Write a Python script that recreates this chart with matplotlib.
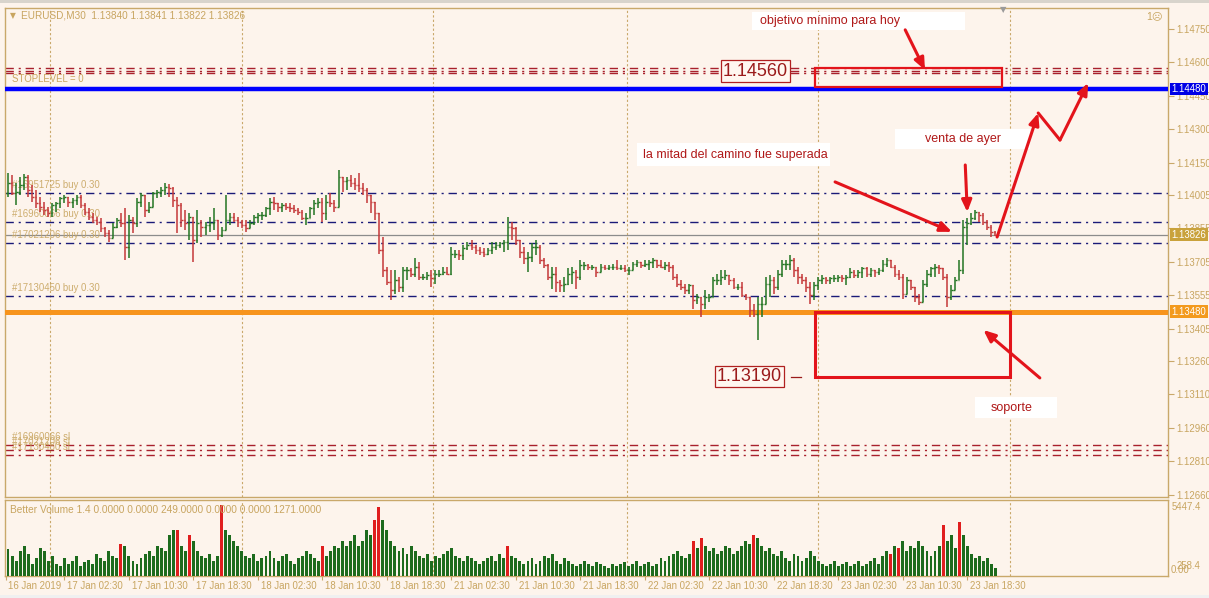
import numpy as np
import matplotlib
matplotlib.use("Agg")
import matplotlib.pyplot as plt
import matplotlib.transforms as mtransforms
from matplotlib.patches import Rectangle

plt.rcParams["font.family"] = ["Liberation Sans", "DejaVu Sans"]

# EURUSD M30 bars (open = previous close)
first_open = 1.14012
highs = [
    1.14102, 1.14095, 1.14057, 1.14087, 1.14099, 1.14095, 1.14050, 1.14027, 1.13997, 1.13975,
    1.13952, 1.13967, 1.13975, 1.13997, 1.14005, 1.13997, 1.13990, 1.14005, 1.14005, 1.13967,
    1.13945, 1.13922, 1.13907, 1.13900, 1.13862, 1.13847, 1.13877, 1.13900, 1.13922, 1.13945,
    1.13915, 1.13907, 1.13990, 1.14012, 1.14005, 1.13975, 1.14020, 1.14027, 1.14042, 1.14057,
    1.14054, 1.14042, 1.13997, 1.13967, 1.13937, 1.13922, 1.13892, 1.13937, 1.13892, 1.13885,
    1.13907, 1.13945, 1.13892, 1.13862, 1.14005, 1.13922, 1.13922, 1.13907, 1.13892, 1.13892,
    1.13892, 1.13915, 1.13922, 1.13930, 1.13952, 1.13990, 1.13997, 1.13967, 1.13967, 1.13967,
    1.13967, 1.13960, 1.13945, 1.13937, 1.13922, 1.13952, 1.13982, 1.13990, 1.13990, 1.14005,
    1.14012, 1.13982, 1.14117, 1.14080, 1.14087, 1.14095, 1.14080, 1.14102, 1.14057, 1.14035,
    1.14005, 1.13967, 1.13922, 1.13817, 1.13682, 1.13667, 1.13667, 1.13637, 1.13682, 1.13682,
    1.13675, 1.13720, 1.13705, 1.13652, 1.13660, 1.13667, 1.13667, 1.13667, 1.13682, 1.13682,
    1.13772, 1.13757, 1.13757, 1.13780, 1.13795, 1.13802, 1.13780, 1.13772, 1.13765, 1.13765,
    1.13795, 1.13795, 1.13795, 1.13802, 1.13907, 1.13885, 1.13862, 1.13802, 1.13772, 1.13750,
    1.13787, 1.13802, 1.13780, 1.13720, 1.13697, 1.13682, 1.13682, 1.13622, 1.13637, 1.13675,
    1.13682, 1.13667, 1.13712, 1.13705, 1.13697, 1.13690, 1.13682, 1.13697, 1.13690, 1.13690,
    1.13697, 1.13712, 1.13690, 1.13690, 1.13682, 1.13705, 1.13715, 1.13705, 1.13712, 1.13712,
    1.13724, 1.13712, 1.13712, 1.13705, 1.13705, 1.13690, 1.13652, 1.13622, 1.13607, 1.13607,
    1.13600, 1.13562, 1.13547, 1.13577, 1.13562, 1.13637, 1.13652, 1.13667, 1.13667, 1.13645,
    1.13630, 1.13607, 1.13615, 1.13562, 1.13547, 1.13517, 1.13547, 1.13547, 1.13637, 1.13645,
    1.13637, 1.13667, 1.13712, 1.13712, 1.13735, 1.13720, 1.13682, 1.13652, 1.13637, 1.13615,
    1.13615, 1.13637, 1.13645, 1.13637, 1.13637, 1.13645, 1.13645, 1.13645, 1.13645, 1.13675,
    1.13667, 1.13667, 1.13682, 1.13682, 1.13675, 1.13667, 1.13675, 1.13712, 1.13720, 1.13715,
    1.13690, 1.13667, 1.13652, 1.13637, 1.13622, 1.13570, 1.13562, 1.13622, 1.13667, 1.13682,
    1.13697, 1.13690, 1.13675, 1.13652, 1.13600, 1.13637, 1.13712, 1.13892, 1.13900, 1.13922,
    1.13937, 1.13930, 1.13922, 1.13892, 1.13870, 1.13841,
]
lows = [
    1.13997, 1.14005, 1.13960, 1.14005, 1.14027, 1.13997, 1.13975, 1.13945, 1.13930, 1.13915,
    1.13907, 1.13907, 1.13930, 1.13945, 1.13967, 1.13952, 1.13945, 1.13960, 1.13945, 1.13915,
    1.13892, 1.13877, 1.13870, 1.13840, 1.13817, 1.13795, 1.13817, 1.13855, 1.13862, 1.13712,
    1.13720, 1.13832, 1.13862, 1.13952, 1.13907, 1.13922, 1.13952, 1.13990, 1.13997, 1.14005,
    1.13997, 1.13952, 1.13832, 1.13862, 1.13847, 1.13802, 1.13705, 1.13787, 1.13817, 1.13825,
    1.13840, 1.13847, 1.13802, 1.13817, 1.13847, 1.13870, 1.13885, 1.13862, 1.13855, 1.13840,
    1.13862, 1.13870, 1.13877, 1.13892, 1.13907, 1.13915, 1.13937, 1.13930, 1.13930, 1.13937,
    1.13930, 1.13922, 1.13915, 1.13892, 1.13870, 1.13907, 1.13915, 1.13945, 1.13885, 1.13892,
    1.13952, 1.13930, 1.13982, 1.14020, 1.14027, 1.14042, 1.14027, 1.14020, 1.14005, 1.13967,
    1.13922, 1.13892, 1.13742, 1.13637, 1.13600, 1.13532, 1.13562, 1.13570, 1.13570, 1.13622,
    1.13637, 1.13637, 1.13622, 1.13622, 1.13622, 1.13592, 1.13607, 1.13637, 1.13645, 1.13645,
    1.13645, 1.13720, 1.13712, 1.13712, 1.13757, 1.13757, 1.13742, 1.13735, 1.13727, 1.13735,
    1.13742, 1.13757, 1.13765, 1.13750, 1.13757, 1.13802, 1.13780, 1.13720, 1.13697, 1.13660,
    1.13705, 1.13735, 1.13697, 1.13675, 1.13622, 1.13585, 1.13570, 1.13570, 1.13570, 1.13600,
    1.13607, 1.13585, 1.13622, 1.13667, 1.13667, 1.13667, 1.13637, 1.13660, 1.13667, 1.13667,
    1.13667, 1.13667, 1.13667, 1.13660, 1.13645, 1.13667, 1.13682, 1.13675, 1.13682, 1.13667,
    1.13675, 1.13675, 1.13675, 1.13667, 1.13660, 1.13622, 1.13592, 1.13577, 1.13562, 1.13562,
    1.13495, 1.13517, 1.13457, 1.13495, 1.13525, 1.13547, 1.13600, 1.13600, 1.13622, 1.13600,
    1.13585, 1.13577, 1.13547, 1.13532, 1.13457, 1.13457, 1.13352, 1.13457, 1.13547, 1.13547,
    1.13562, 1.13577, 1.13637, 1.13667, 1.13667, 1.13637, 1.13607, 1.13607, 1.13570, 1.13517,
    1.13532, 1.13577, 1.13607, 1.13607, 1.13607, 1.13615, 1.13615, 1.13615, 1.13600, 1.13630,
    1.13630, 1.13630, 1.13630, 1.13637, 1.13637, 1.13637, 1.13645, 1.13660, 1.13682, 1.13675,
    1.13637, 1.13622, 1.13540, 1.13570, 1.13577, 1.13525, 1.13510, 1.13547, 1.13592, 1.13637,
    1.13637, 1.13652, 1.13622, 1.13502, 1.13532, 1.13577, 1.13622, 1.13652, 1.13780, 1.13870,
    1.13892, 1.13885, 1.13870, 1.13847, 1.13817, 1.13822,
]
closes = [
    1.14057, 1.14012, 1.14020, 1.14050, 1.14087, 1.14027, 1.13997, 1.13967, 1.13952, 1.13937,
    1.13922, 1.13960, 1.13967, 1.13990, 1.13997, 1.13975, 1.13982, 1.13997, 1.13960, 1.13930,
    1.13907, 1.13892, 1.13885, 1.13855, 1.13832, 1.13810, 1.13862, 1.13892, 1.13877, 1.13772,
    1.13892, 1.13877, 1.13975, 1.14005, 1.13937, 1.13952, 1.14012, 1.14020, 1.14027, 1.14042,
    1.14035, 1.13982, 1.13960, 1.13892, 1.13877, 1.13907, 1.13802, 1.13877, 1.13862, 1.13870,
    1.13877, 1.13892, 1.13825, 1.13847, 1.13892, 1.13907, 1.13892, 1.13885, 1.13870, 1.13855,
    1.13877, 1.13907, 1.13915, 1.13915, 1.13945, 1.13975, 1.13967, 1.13952, 1.13960, 1.13952,
    1.13945, 1.13937, 1.13930, 1.13900, 1.13900, 1.13945, 1.13967, 1.13975, 1.13922, 1.13975,
    1.13967, 1.13952, 1.14087, 1.14065, 1.14072, 1.14057, 1.14050, 1.14035, 1.14027, 1.14005,
    1.13975, 1.13922, 1.13757, 1.13667, 1.13615, 1.13577, 1.13622, 1.13592, 1.13667, 1.13667,
    1.13652, 1.13682, 1.13637, 1.13637, 1.13645, 1.13630, 1.13652, 1.13652, 1.13660, 1.13652,
    1.13742, 1.13742, 1.13735, 1.13765, 1.13780, 1.13772, 1.13757, 1.13750, 1.13742, 1.13757,
    1.13772, 1.13780, 1.13787, 1.13795, 1.13862, 1.13855, 1.13802, 1.13750, 1.13720, 1.13727,
    1.13772, 1.13772, 1.13712, 1.13690, 1.13637, 1.13652, 1.13615, 1.13600, 1.13607, 1.13652,
    1.13660, 1.13637, 1.13690, 1.13690, 1.13682, 1.13682, 1.13660, 1.13682, 1.13675, 1.13682,
    1.13682, 1.13675, 1.13675, 1.13667, 1.13667, 1.13697, 1.13705, 1.13690, 1.13697, 1.13705,
    1.13712, 1.13690, 1.13682, 1.13690, 1.13682, 1.13637, 1.13607, 1.13592, 1.13577, 1.13600,
    1.13532, 1.13547, 1.13517, 1.13547, 1.13547, 1.13622, 1.13622, 1.13637, 1.13645, 1.13622,
    1.13592, 1.13592, 1.13555, 1.13547, 1.13487, 1.13472, 1.13517, 1.13517, 1.13607, 1.13622,
    1.13592, 1.13652, 1.13697, 1.13697, 1.13712, 1.13667, 1.13637, 1.13622, 1.13592, 1.13555,
    1.13600, 1.13622, 1.13630, 1.13622, 1.13630, 1.13630, 1.13637, 1.13630, 1.13637, 1.13660,
    1.13645, 1.13660, 1.13675, 1.13652, 1.13667, 1.13660, 1.13667, 1.13697, 1.13712, 1.13682,
    1.13652, 1.13637, 1.13562, 1.13622, 1.13592, 1.13547, 1.13525, 1.13607, 1.13652, 1.13675,
    1.13682, 1.13675, 1.13637, 1.13547, 1.13577, 1.13622, 1.13667, 1.13862, 1.13877, 1.13900,
    1.13930, 1.13915, 1.13885, 1.13862, 1.13840, 1.13826,
]

# Better Volume histogram
volumes = [
    2110, 1560, 1170, 1950, 2340, 1720, 940, 1400, 2180, 1950, 1170, 1560, 940, 780,
    1400, 940, 1170, 1560, 780, 1090, 1250, 940, 1720, 1400, 1170, 1950, 1560, 1400,
    2500, 2340, 1560,
    1170, 940, 1400, 1720, 1950, 1560, 2340, 2180, 1950, 3120, 3510,
    3510, 2340, 1950, 3120, 2730, 1950, 1560, 1400, 1720, 1170, 1560,
    5447, 3510, 3120, 2730, 2340, 1950, 1560, 1400, 1720, 1170, 1400,
    1560, 1950, 1400, 1170, 1560, 1720, 1170, 940, 1400, 1560, 1950, 1720, 1400, 1170,
    2340, 1560, 1950, 2340, 2180, 2730, 2340, 2730, 3120, 2340, 2730,
    3510, 3120, 4290, 5300, 4290, 3510, 2730,
    2340, 1950, 2180, 1720, 2340, 1950, 1560, 1400, 1720, 1170, 1560, 1400, 1720, 1950, 2180,
    1560, 1400, 1170, 1560, 1400, 1170, 940, 1170, 1400, 1560, 1170, 1720, 1400, 2340,
    1560, 1400, 1170, 940, 1170, 1400, 940, 1170, 1560, 1400, 1720, 1170, 940, 1400, 1170, 940,
    780, 940, 1170, 940, 780, 1090, 940, 780, 620, 940, 780, 940, 1090, 780, 940, 1170,
    780, 940, 1090, 780, 940, 1400, 1170, 1560, 1720,
    1950, 1560, 1400, 1720, 2730, 2180, 2960, 2340, 1950, 2180, 1720,
    1950, 2340, 2180, 1720, 1950, 2340, 2730, 2500, 3120, 2960, 2340, 1950, 2180, 1720,
    1560, 1950, 1400, 1170, 1720, 1560, 1170, 1400, 1950, 1560, 1170, 940, 780, 940, 1170,
    780, 940, 1090, 780, 940, 1170, 780, 940, 1170, 1400, 940,
    1560, 1950, 1720, 2340, 2180, 2730, 1950, 2340, 2180, 2730, 2340, 1950, 1560, 1950,
    2340, 3900, 2730, 3120, 2180, 4130,
    3120, 2340, 1720, 1400, 1560, 1170, 1400, 940, 620,
]
red_volume_bars = [28, 42, 45, 53, 78, 91, 92, 124, 170, 172, 185, 219, 221, 232, 236]

time_labels = ["16 Jan 2019", "17 Jan 02:30", "17 Jan 10:30", "17 Jan 18:30", "18 Jan 02:30",
               "18 Jan 10:30", "18 Jan 18:30", "21 Jan 02:30", "21 Jan 10:30", "21 Jan 18:30",
               "22 Jan 02:30", "22 Jan 10:30", "22 Jan 18:30", "23 Jan 02:30", "23 Jan 10:30",
               "23 Jan 18:30"]
time_label_bars = [-0.6, 14, 30, 46, 62, 78, 94, 110, 126, 142, 158, 174, 190, 206, 222, 238]
grid_bars = [10.5, 58, 105.5, 153.5, 201, 248.5]

price_ticks = [1.14750, 1.14600, 1.14450, 1.14300, 1.14150, 1.14005, 1.13855, 1.13705,
               1.13555, 1.13405, 1.13260, 1.13110, 1.12960, 1.12810, 1.12660]

bid_price = 1.13826
resistance = 1.14480
support = 1.13480
buy_levels = [1.14014, 1.13883, 1.13790, 1.13551]
buy_labels = ["#16951725 buy 0.30", "#16960066 buy 0.30", "#17021206 buy 0.30", "#17130450 buy 0.30"]
tp_levels = [1.14575, 1.14562, 1.14550]
sl_levels = [1.12885, 1.12863, 1.12840]
sl_labels = ["#16960066 sl", "#17021206 sl", "#17130450 sl"]

target_zone = (1.14489, 1.14574)
target_zone_bars = (200.2, 246.7)
support_zone = (1.13190, 1.13480)
support_zone_bars = (200.2, 248.6)

# ---- styling ----
bg = "#fdf4ec"
tan = "#c9a86a"
txt = "#c8a560"
navy = "#1a1a78"
dred = "#a8202c"
green = "#237523"
red = "#c43838"
arrow_red = "#e3141b"
small = 6.9

W, H = 1209, 598
fig = plt.figure(figsize=(W / 100, H / 100), dpi=100, facecolor=bg)


def fx(px):
    return px / W


def fy(py):
    return 1 - py / H


ax = fig.add_axes([fx(5), fy(497), fx(1168) - fx(5), fy(8) - fy(497)])
axv = fig.add_axes([fx(5), fy(576), fx(1168) - fx(5), fy(500) - fy(576)])
for a in (ax, axv):
    a.set_facecolor(bg)
    a.set_xlim(-0.75, 287.8)
    for s in a.spines.values():
        s.set_color(tan)
        s.set_linewidth(1)
    for b in grid_bars:
        a.axvline(b, color=tan, ls=(0, (2, 2)), lw=0.8, zorder=0)

ax.set_ylim(1.12650, 1.14843)

# price levels
ax.axhline(resistance, color="#0000ff", lw=3.2, zorder=3)
ax.axhline(support, color="#f7941d", lw=3.6, zorder=3)
ax.axhline(bid_price, color="#8c8c8c", lw=0.9, zorder=1)
for lv in buy_levels:
    ax.axhline(lv, color=navy, lw=1, ls=(0, (6, 3.5, 1.5, 3.5)), zorder=1)
for lv in tp_levels + sl_levels:
    ax.axhline(lv, color=dred, lw=1, ls=(0, (6, 3.5, 1.5, 3.5)), zorder=1)

for lv, lab in zip(buy_levels, buy_labels):
    ax.text(1.0, lv + 0.00012, lab, fontsize=small, color=txt, va="bottom", ha="left",
            alpha=0.9, zorder=4)
for lv, lab in zip(sl_levels, sl_labels):
    ax.text(1.0, lv + 0.00012, lab, fontsize=small, color=txt, va="bottom", ha="left",
            alpha=0.9, zorder=4)
ax.text(1.0, tp_levels[-1] - 0.00005, "STOPLEVEL = 0", fontsize=small, color=txt,
        va="top", ha="left", zorder=4)

# OHLC bars
x = np.arange(len(closes))
hi = np.array(highs)
lo = np.array(lows)
cl = np.array(closes)
op = np.concatenate([[first_open], cl[:-1]])
cols = np.where(cl >= op, green, red)
ax.vlines(x, np.minimum(lo, op), np.maximum(hi, op), colors=cols, lw=1.1, zorder=5)
ax.hlines(op, x - 0.42, x, colors=cols, lw=1.0, zorder=5)
ax.hlines(cl, x, x + 0.42, colors=cols, lw=1.0, zorder=5)

# right price scale
ax.yaxis.tick_right()
ax.set_yticks(price_ticks)
ax.set_yticklabels([f"{p:.5f}" for p in price_ticks])
ax.tick_params(axis="y", colors=tan, labelcolor=txt, labelsize=small, length=4, pad=2, width=0.8)
ax.set_xticks([])

ytrans = ax.get_yaxis_transform()
for lv, fc in [(resistance, "#0000e6"), (bid_price, "#c9a23c"), (support, "#f39a1e")]:
    ax.text(1.003, lv, f"{lv:.5f}", transform=ytrans, fontsize=small, color="white",
            va="center", ha="left", zorder=10, clip_on=False,
            bbox=dict(boxstyle="square,pad=0.15", fc=fc, ec="none"))

# annotations drawn on the chart
ax.add_patch(Rectangle((target_zone_bars[0], target_zone[0]),
                       target_zone_bars[1] - target_zone_bars[0], target_zone[1] - target_zone[0],
                       fill=False, ec=arrow_red, lw=1.6, zorder=8))
ax.add_patch(Rectangle((support_zone_bars[0], support_zone[0]),
                       support_zone_bars[1] - support_zone_bars[0], support_zone[1] - support_zone[0],
                       fill=False, ec=arrow_red, lw=2.2, zorder=8))

ax.text(185.4, 1.14560, "1.14560", fontsize=13, color="#9b1b1b",
        ha="center", va="center", zorder=9,
        bbox=dict(boxstyle="square,pad=0.12", fc="#fff7f0", ec="#b02020", lw=0.9))
ax.text(184.0, 1.13190, "1.13190", fontsize=13, color="#9b1b1b",
        ha="center", va="center", zorder=9,
        bbox=dict(boxstyle="square,pad=0.12", fc="#fff7f0", ec="#b02020", lw=0.9))
ax.plot([194.3, 196.7], [1.13188, 1.13188], color="#9b1b1b", lw=0.9, zorder=9)

notes = [
    ((184.6, 237.5), (1.14745, 1.14825), 186.6, 1.14785, "objetivo mínimo para hoy"),
    ((156.1, 204.0), (1.14135, 1.14238), 157.6, 1.14184, "la mitad del camino fue superada"),
    ((220.1, 253.6), (1.14211, 1.14301), 227.5, 1.14256, "venta de ayer"),
    ((240.0, 260.3), (1.13005, 1.13099), 243.7, 1.13049, "soporte"),
]
for (bx0, bx1), (by0, by1), tx, ty, s in notes:
    ax.add_patch(Rectangle((bx0, by0), bx1 - bx0, by1 - by0, fc="white", ec="none", zorder=8))
    ax.text(tx, ty, s, fontsize=9, color="#b01818", ha="left", va="center", zorder=9)

arrows = [
    ((222.6, 1.14745), (227.5, 1.14565)),
    ((205.2, 1.14063), (234.2, 1.13839)),
    ((237.5, 1.14139), (238.0, 1.13928)),
    ((245.4, 1.13816), (255.6, 1.14372)),
    ((261.0, 1.14251), (268.0, 1.14507)),
    ((256.0, 1.13184), (242.0, 1.13399)),
]
for start, end in arrows:
    ax.annotate("", xy=end, xytext=start, zorder=9,
                arrowprops=dict(arrowstyle="-|>,head_length=0.7,head_width=0.3",
                                color=arrow_red, lw=2.2, shrinkA=0, shrinkB=0))
ax.plot([255.6, 261.0], [1.14372, 1.14251], color=arrow_red, lw=2.2, zorder=9,
        solid_capstyle="round")

# volume pane
vol_cols = ["#e01e1e" if i in red_volume_bars else "#1d6b1d" for i in range(len(volumes))]
axv.bar(np.arange(len(volumes)), volumes, width=0.72, color=vol_cols, zorder=3)
axv.set_ylim(0, 5850)
axv.set_yticks([])
axv.set_xticks(time_label_bars)
axv.set_xticklabels(time_labels)
axv.tick_params(axis="x", colors=tan, labelcolor=txt, labelsize=small, length=3, pad=0.5, width=0.8)
offset = mtransforms.ScaledTranslation(2 / 72, 0, fig.dpi_scale_trans)
for lbl in axv.get_xticklabels():
    lbl.set_horizontalalignment("left")
    lbl.set_transform(lbl.get_transform() + offset)

axv.text(0.004, 0.93, "Better Volume 1.4 0.0000 0.0000 249.0000 0.0000 0.0000 1271.0000",
         transform=axv.transAxes, fontsize=7.3, color=txt, va="top", ha="left", zorder=6)

# header and side texts
fig.text(fx(10), fy(16), "▼", fontsize=5.5, color=txt, va="center", ha="left",
         family="DejaVu Sans")
fig.text(fx(21), fy(16), "EURUSD,M30  1.13840 1.13841 1.13822 1.13826", fontsize=7.2,
         color=txt, va="center", ha="left")
fig.text(fx(1146), fy(16), "1☹", fontsize=7.5, color=txt, va="center", ha="left")
fig.text(fx(1003), fy(10), "▼", fontsize=6, color="#9a9a9a", va="center", ha="center",
         family="DejaVu Sans")
fig.text(fx(1172), fy(507), "5447.4", fontsize=small, color=txt, va="center", ha="left")
fig.text(fx(1171), fy(570), "0.00", fontsize=small, color=txt, va="center", ha="left")
fig.text(fx(1177), fy(566), "258.4", fontsize=small, color=txt, va="center", ha="left")

# window strips top/bottom
fig.patches.append(Rectangle((0, fy(3)), 1, fy(0) - fy(3), transform=fig.transFigure,
                             fc="#d8d4cc", ec="none"))
fig.patches.append(Rectangle((0, 0), 1, fy(595), transform=fig.transFigure,
                             fc="#f0f0f0", ec="none"))

fig.savefig("out.png", dpi=100, facecolor=bg)
